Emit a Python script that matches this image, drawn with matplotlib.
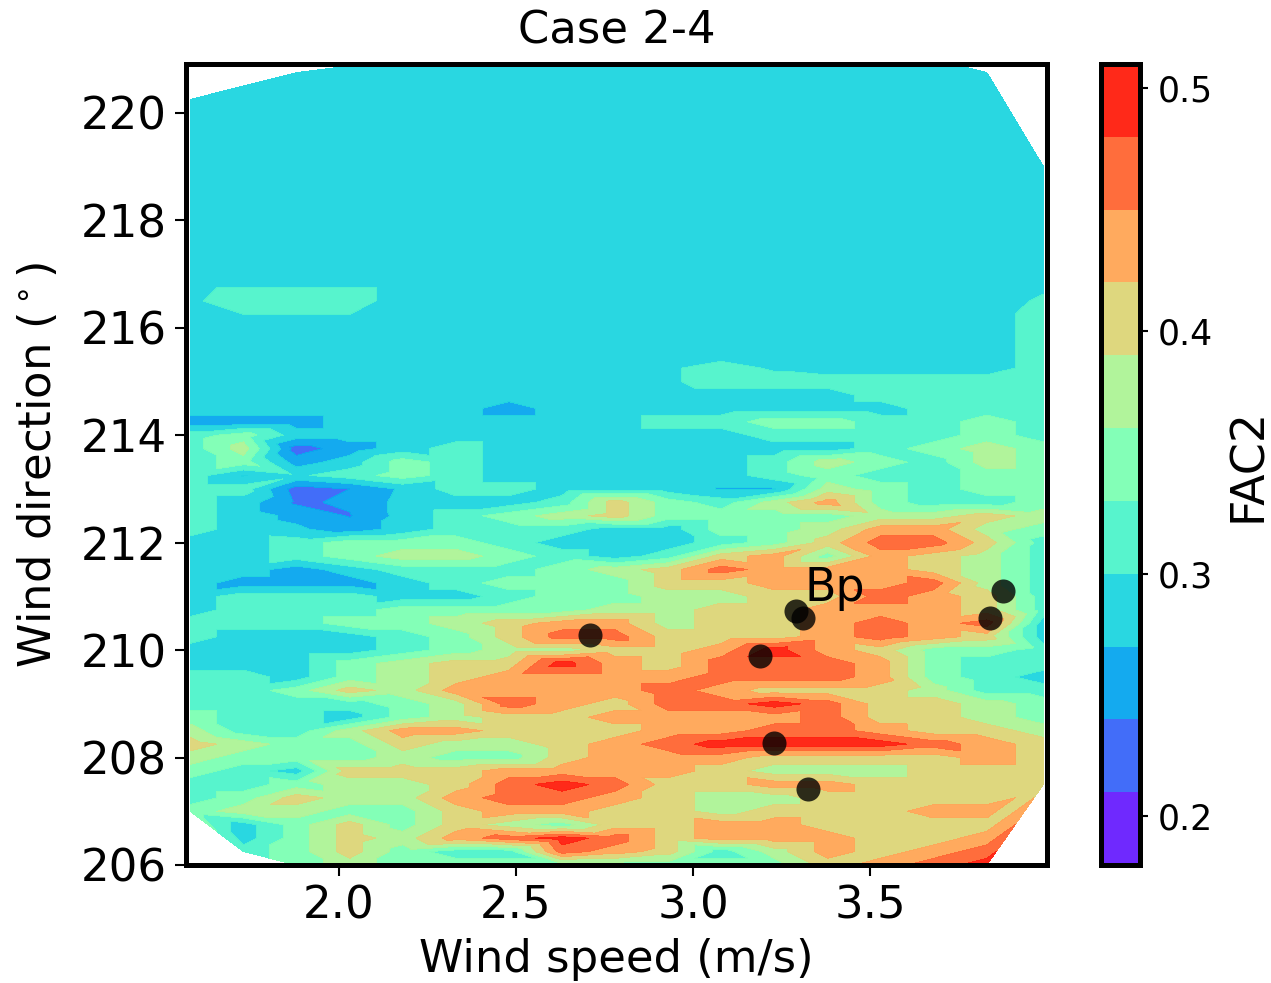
#!/usr/bin/env python3
"""FAC2 contour map over wind speed and wind direction, Case 2-4."""

import numpy as np
import matplotlib
matplotlib.use('Agg')
import matplotlib.pyplot as plt
import matplotlib.tri as mtri

n = float('nan')

wind_speed = [1.58, 1.73, 1.88, 2.03, 2.18, 2.33, 2.48, 2.63, 2.78,
              2.93, 3.08, 3.23, 3.38, 3.53, 3.68, 3.83, 3.99]
wind_dir = [206, 206.25, 206.5, 206.75, 207, 207.25, 207.5, 207.75, 208,
            208.25, 208.5, 208.75, 209, 209.25, 209.5, 209.75, 210,
            210.25, 210.5, 210.75, 211, 211.25, 211.5, 211.75, 212,
            212.25, 212.5, 212.75, 213, 213.25, 213.5, 213.75, 214,
            214.25, 214.5, 214.75, 215, 215.25, 215.5, 216, 216.5,
            217, 218, 219, 220, 220.25, 220.5, 220.75, 221]

# one row per wind direction, nan = outside the sampled area
fac2 = [
    [n, n, .345, .375, .345, .345, .345, .345, .345, .345, .345, .345, .405, .435, .465, .495, n],
    [n, .315, .345, .405, .345, .315, .315, .465, .435, .405, .315, .375, .435, .405, .435, .465, n],
    [n, .285, .345, .405, .375, .435, .465, .495, .465, .405, .435, .435, .435, .405, .405, .435, n],
    [n, .285, .345, .405, .345, .405, .375, .345, .405, .405, .435, .435, .405, .405, .405, .405, n],
    [.345, .375, .375, .345, .345, .405, .435, .435, .405, .405, .375, .405, .405, .405, .435, .435, n],
    [.315, .345, .405, .375, .375, .435, .465, .465, .435, .405, .375, .375, .405, .405, .405, .405, n],
    [.315, .315, .345, .375, .375, .405, .465, .495, .465, .405, .405, .435, .435, .405, .405, .405, .405],
    [.345, .315, .285, .405, .405, .405, .435, .435, .435, .435, .405, .375, .375, .375, .405, .405, .405],
    [.375, .345, .345, .345, .375, .345, .345, .405, .435, .435, .435, .405, .405, .405, .405, .435, .405],
    [.405, .375, .345, .345, .405, .375, .375, .405, .435, .465, .495, .495, .495, .495, .465, .435, .405],
    [.375, .315, .315, .375, .435, .435, .405, .405, .405, .435, .435, .465, .465, .435, .405, .405, .375],
    [.345, .315, .315, .285, .345, .375, .405, .405, .435, .435, .435, .435, .465, .405, .405, .375, .345],
    [.315, .315, .315, .315, .345, .375, .465, .435, .405, .465, .465, .495, .465, .405, .405, .375, .345],
    [.315, .315, .345, .405, .375, .435, .435, .435, .435, .465, .435, .405, .405, .405, .375, .315, .315],
    [.315, .315, .285, .345, .375, .405, .435, .435, .435, .435, .465, .465, .465, .435, .345, .315, .285],
    [.285, .285, .285, .345, .375, .405, .405, .495, .435, .405, .465, .465, .465, .435, .345, .315, .315],
    [.285, .285, .285, .285, .315, .345, .375, .375, .405, .405, .435, .495, .435, .405, .345, .345, .315],
    [.315, .285, .285, .285, .315, .345, .405, .465, .465, .405, .405, .405, .435, .465, .435, .405, .285],
    [.315, .315, .315, .345, .345, .375, .405, .435, .435, .375, .405, .405, .435, .465, .435, .465, .285],
    [.285, .315, .315, .315, .345, .345, .345, .345, .375, .375, .405, .405, .435, .435, .435, .405, .315],
    [.285, .315, .315, .315, .285, .285, .315, .345, .345, .375, .375, .405, .405, .465, .435, .405, .315],
    [.285, .255, .255, .255, .285, .315, .345, .345, .345, .405, .405, .435, .435, .435, .465, .375, .315],
    [.285, .285, .255, .285, .315, .315, .315, .345, .375, .405, .465, .435, .435, .435, .405, .375, .315],
    [.285, .285, .315, .345, .375, .375, .345, .315, .285, .315, .405, .435, .345, .435, .405, .375, .315],
    [.285, .285, .315, .345, .345, .345, .315, .285, .285, .285, .315, .345, .405, .465, .465, .405, .315],
    [.315, .285, .275, .255, .28, .315, .315, .315, .285, .285, .345, .345, .375, .435, .435, .375, .345],
    [.315, .285, .262, .238, .28, .315, .345, .375, .405, .345, .345, .345, .345, .375, .375, .405, .375],
    [.315, .285, .235, .245, .28, .285, .285, .315, .405, .345, .315, .375, .435, .345, .315, .315, .345],
    [.315, .315, .225, .24, .275, .315, .315, .285, .285, .285, .268, .268, .375, .345, .315, .345, .345],
    [.315, .268, .295, .315, .345, .315, .285, .285, .285, .285, .285, .315, .345, .315, .315, .345, .345],
    [.315, .345, .255, .285, .345, .315, .285, .285, .285, .285, .285, .315, .375, .345, .315, .375, .345],
    [.315, .375, .225, .255, .285, .315, .285, .285, .285, .285, .285, .285, .285, .315, .345, .375, .345],
    [.315, .345, .285, .285, .285, .285, .285, .285, .285, .285, .285, .315, .315, .315, .315, .345, .315],
    [.255, .255, .255, .285, .285, .285, .285, .285, .285, .315, .315, .345, .345, .315, .315, .345, .315],
    [.285, .285, .285, .285, .285, .285, .255, .285, .285, .285, .285, .285, .285, .285, .315, .315, .315],
    [.285, .285, .285, .285, .285, .285, .285, .285, .285, .285, .285, .285, .285, .315, .315, .315, .315],
    [.285, .285, .285, .285, .285, .285, .285, .285, .285, .295, .315, .315, .315, .315, .315, .315, .315],
    [.285, .285, .285, .285, .285, .285, .285, .285, .285, .295, .315, .295, .285, .285, .285, .285, .315],
    [.285, .285, .285, .285, .285, .285, .285, .285, .285, .285, .285, .285, .285, .285, .285, .285, .315],
    [.285, .285, .285, .285, .285, .285, .285, .285, .285, .285, .285, .285, .285, .285, .285, .285, .315],
    [.295, .315, .315, .315, .285, .285, .285, .285, .285, .285, .285, .285, .285, .285, .285, .285, .305],
    [.285, .285, .285, .285, .285, .285, .285, .285, .285, .285, .285, .285, .285, .285, .285, .285, .285],
    [.285, .285, .285, .285, .285, .285, .285, .285, .285, .285, .285, .285, .285, .285, .285, .285, .285],
    [.285, .285, .285, .285, .285, .285, .285, .285, .285, .285, .285, .285, .285, .285, .285, .285, .285],
    [.285, .285, .285, .285, .285, .285, .285, .285, .285, .285, .285, .285, .285, .285, .285, .285, n],
    [.285, .285, .285, .285, .285, .285, .285, .285, .285, .285, .285, .285, .285, .285, .285, .285, n],
    [n, .285, .285, .285, .285, .285, .285, .285, .285, .285, .285, .285, .285, .285, .285, .285, n],
    [n, n, .285, .285, .285, .285, .285, .285, .285, .285, .285, .285, .285, .285, .285, .285, n],
    [n, n, n, n, .285, .285, .285, .285, .285, .285, .285, .285, .285, .285, .285, n, n],
]

levels = [.18, .21, .24, .27, .30, .33, .36, .39, .42, .45, .48, .51]

case_speed = [2.71, 3.19, 3.23, 3.325, 3.29, 3.31, 3.84, 3.875]
case_dir = [210.28, 209.89, 208.27, 207.42, 210.73, 210.6, 210.6, 211.1]

x_ticks = [2.0, 2.5, 3.0, 3.5]
y_ticks = [206, 208, 210, 212, 214, 216, 218, 220]
cbar_ticks = [.2, .3, .4, .5]

W, H = 1271, 983


def ax_rect(left, right, top, bottom):
    return [left / W, 1 - bottom / H, (right - left) / W, (bottom - top) / H]


fig = plt.figure(figsize=(W / 100, H / 100), dpi=100)
ax = fig.add_axes(ax_rect(186, 1047, 64, 865))
cax = fig.add_axes(ax_rect(1101, 1140, 64, 865))

xx, yy = np.meshgrid(wind_speed, wind_dir)
zz = np.array(fac2)
ok = ~np.isnan(zz)
tri = mtri.Triangulation(xx[ok], yy[ok])
cf = ax.tricontourf(tri, zz[ok], levels=levels, cmap='rainbow', alpha=0.97)
ax.scatter(case_speed, case_dir, s=300, c='k', alpha=0.8, linewidths=0, zorder=3)
ax.text(3.315, 210.92, 'Bp', fontsize=33, zorder=4)

ax.set_xlim(1.568, 4.0)
ax.set_ylim(206, 220.91)
ax.set_xticks(x_ticks)
ax.set_yticks(y_ticks)
ax.tick_params(labelsize=32.5, length=8, width=1.5, pad=6)
ax.set_xlabel('Wind speed (m/s)', fontsize=32.3)
ax.set_ylabel(r'Wind direction ($^\circ$)', fontsize=32.3)
ax.xaxis.set_label_coords(0.5, -0.091)
ax.yaxis.set_label_coords(-0.146, 0.5)
ax.set_title('Case 2-4', fontsize=32.3, pad=15)
for sp in ax.spines.values():
    sp.set_linewidth(3.6)

cb = fig.colorbar(cf, cax=cax, ticks=cbar_ticks)
cb.ax.tick_params(labelsize=25, length=6, width=1.5, pad=7)
cb.set_label('FAC2', fontsize=33, labelpad=9)
cb.outline.set_linewidth(3.6)

fig.savefig('out.png', dpi=100)
